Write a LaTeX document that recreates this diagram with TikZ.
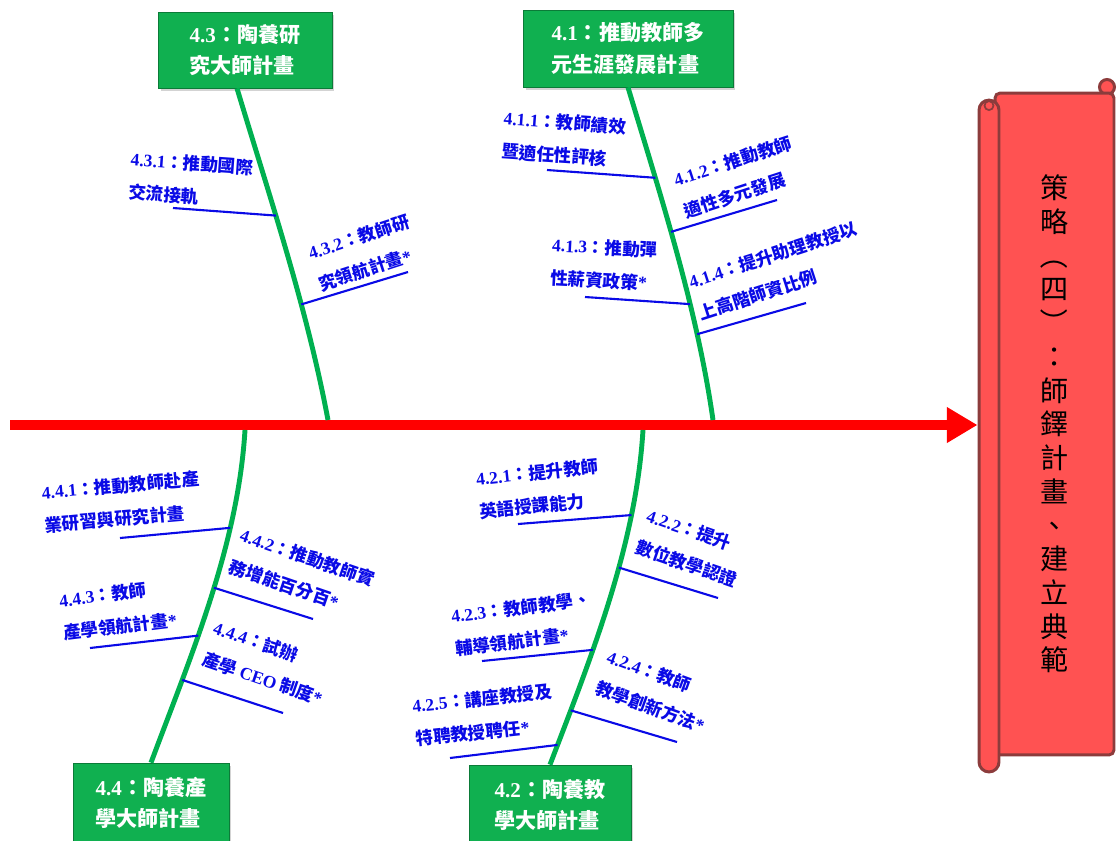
\documentclass[tikz,border=0pt]{standalone}
\usepackage{fontspec}
\usepackage{graphicx}
\setmainfont{Liberation Serif}
\newfontfamily\cjk{Noto Sans CJK TC}
\usetikzlibrary{arrows.meta,shadows}

\definecolor{boxgreen}{RGB}{16,176,80}
\definecolor{bonegreen}{RGB}{0,176,80}
\definecolor{branchblue}{RGB}{10,10,230}
\definecolor{scrollred}{RGB}{255,82,82}
\definecolor{scrolledge}{RGB}{140,60,60}
\definecolor{arrowred}{RGB}{255,0,0}
\newcommand{\no}[1]{{\rmfamily #1}}
\newcommand{\vpar}[1]{\rotatebox[origin=c]{-90}{#1}}

\begin{document}
\begin{tikzpicture}[x=0.02cm, y=-0.02cm,
    mainbox/.style={draw=boxgreen!70!black, fill=boxgreen, text=white, align=left,
        font=\cjk\bfseries\fontsize{12}{18}\selectfont,
        drop shadow={opacity=0.35, shadow xshift=0.05cm, shadow yshift=-0.05cm}},
    sublbl/.style={text=branchblue, align=left, inner sep=0pt,
        font=\cjk\bfseries\fontsize{10}{18.8}\selectfont},
    bone/.style={bonegreen, line width=2.8pt},
    branch/.style={branchblue, line width=1.2pt},
    scrollbody/.style={draw=scrolledge, fill=scrollred, line width=1.7pt,
        rounded corners=0.1cm, align=center, font=\cjk\fontsize{16}{19.2}\selectfont},
    rollbar/.style={draw=scrolledge, fill=scrollred, line width=1.7pt,
        rounded corners=0.2cm, minimum width=0.4cm, minimum height=13.44cm}]
        \useasboundingbox (0,0) rectangle (1117,840);

        % scroll on the right
        \filldraw[scrolledge, fill=scrollred, line width=1.7pt] (1107,87) circle (0.15cm);
        \node[scrollbody, minimum width=2.38cm, minimum height=13.24cm] (scroll) at (1054.5,424)
            {策\\略\\\vpar{（}\\四\\\vpar{）}\\：\\師\\鐸\\計\\畫\\、\\建\\立\\典\\範};
        \node[rollbar] (roll) at (989,436) {};
        \draw[scrolledge, line width=1pt] (roll.north) ++(0,7) circle (0.09cm);

        % spine
        \coordinate (tail) at (10,425);
        \draw[arrowred, line width=5.2pt, -{Triangle[length=17.5pt,width=19.3pt]}]
            (tail) -- (roll.west |- tail);

        \coordinate (s43) at (328,420);
        \coordinate (s41) at (713,420);
        \coordinate (s44) at (245,430);
        \coordinate (s42) at (643,430);

        % main causes
        \node[mainbox, minimum width=3.48cm, minimum height=1.52cm] (b43) at (245,50)
            {\no{4.3}：陶養研\\究大師計畫};
        \node[mainbox, minimum width=4.2cm, minimum height=1.54cm] (b41) at (628,48.5)
            {\no{4.1}：推動教師多\\元生涯發展計畫};
        \node[mainbox, minimum width=3.12cm, minimum height=1.6cm] (b44) at (151,803)
            {\no{4.4}：陶養產\\學大師計畫};
        \node[mainbox, minimum width=3.24cm, minimum height=1.6cm] (b42) at (550,805)
            {\no{4.2}：陶養教\\學大師計畫};

        \draw[bone] ([xshift=-0.16cm]b43.south) .. controls (270,198) and (307,308) .. (s43)
            coordinate[pos=0.386] (j431) coordinate[pos=0.654] (j432);
        \draw[bone] (b41.south) .. controls (661,197) and (697,308) .. (s41)
            coordinate[pos=0.274] (j411) coordinate[pos=0.437] (j412)
            coordinate[pos=0.654] (j413) coordinate[pos=0.744] (j414);
        \draw[bone] (b44.north) .. controls (192,653) and (238,545) .. (s44)
            coordinate[pos=0.712] (j441) coordinate[pos=0.532] (j442)
            coordinate[pos=0.387] (j443) coordinate[pos=0.252] (j444);
        \draw[bone] (b42.north) .. controls (592,655) and (636,545) .. (s42)
            coordinate[pos=0.751] (j421) coordinate[pos=0.595] (j422)
            coordinate[pos=0.348] (j423) coordinate[pos=0.165] (j424)
            coordinate[pos=0.060] (j425);

        % sub causes
        \coordinate (e431) at (173,208);
        \coordinate (e432) at (408,272);
        \coordinate (e411) at (547,170);
        \coordinate (e412) at (777,200);
        \coordinate (e413) at (585,297);
        \coordinate (e414) at (806,303);
        \coordinate (e441) at (120,538);
        \coordinate (e442) at (313,619);
        \coordinate (e443) at (90,648);
        \coordinate (e444) at (283,713);
        \coordinate (e421) at (518,524);
        \coordinate (e422) at (718,598);
        \coordinate (e423) at (482,661);
        \coordinate (e424) at (677,742);
        \coordinate (e425) at (450,758);

        \foreach \k in {431,432,411,412,413,414,441,442,443,444,421,422,423,424,425}
            \draw[branch] (j\k) -- (e\k);

        \node[sublbl, rotate=-4] (l431) at (191,180) {\no{4.3.1}：推動國際\\交流接軌};
        \node[sublbl, rotate=18] (l432) at (364,253) {\no{4.3.2}：教師研\\究領航計畫\no{*}};
        \node[sublbl, rotate=-4] (l411) at (564,139) {\no{4.1.1}：教師績效\\暨適任性評核};
        \node[sublbl, rotate=18] (l412) at (738,177) {\no{4.1.2}：推動教師\\適性多元發展};
        \node[sublbl, rotate=-3] (l413) at (604,264) {\no{4.1.3}：推動彈\\性薪資政策\no{*}};
        \node[sublbl, rotate=18] (l414) at (778,271) {\no{4.1.4}：提升助理教授以\\上高階師資比例};
        \node[sublbl, rotate=5] (l441) at (122,502) {\no{4.4.1}：推動教師赴產\\業研習與研究計畫};
        \node[sublbl, rotate=-19] (l442) at (302,573) {\no{4.4.2}：推動教師實\\務增能百分百\no{*}};
        \node[sublbl, rotate=7] (l443) at (118,610) {\no{4.4.3}：教師\\產學領航計畫\no{*}};
        \node[sublbl, rotate=-19] (l444) at (268,663) {\no{4.4.4}：試辦\\產學 \no{CEO} 制度\no{*}};
        \node[sublbl, rotate=6] (l421) at (539,489) {\no{4.2.1}：提升教師\\英語授課能力};
        \node[sublbl, rotate=-19] (l422) at (692,548) {\no{4.2.2}：提升\\數位教學認證};
        \node[sublbl, rotate=7] (l423) at (523,624) {\no{4.2.3}：教師教學、\\輔導領航計畫\no{*}};
        \node[sublbl, rotate=-20] (l424) at (656,691) {\no{4.2.4}：教師\\教學創新方法\no{*}};
        \node[sublbl, rotate=6] (l425) at (484,715) {\no{4.2.5}：講座教授及\\特聘教授聘任\no{*}};
    \end{tikzpicture}
\end{document}
